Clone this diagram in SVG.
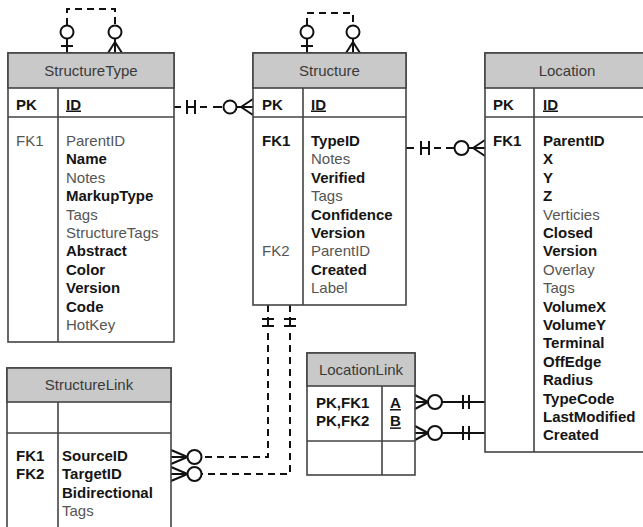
<svg xmlns="http://www.w3.org/2000/svg" width="643" height="527" viewBox="0 0 643 527">
<style>
.box{fill:#fff;stroke:#444;stroke-width:1.6}
.hdr{fill:#c9c9c9;stroke:#444;stroke-width:1.6}
.sep{stroke:#444;stroke-width:1.6;fill:none}
text{font-family:"Liberation Sans",Arial,sans-serif;font-size:15px}
.h{fill:#3a3a3a;text-anchor:middle}
.r{fill:#555}
.b{fill:#151515;font-weight:bold}
.u{text-decoration:underline}
.ln{stroke:#111;stroke-width:2;fill:none}
.ds{stroke:#111;stroke-width:2;fill:none;stroke-dasharray:7,5}
.c{stroke:#111;stroke-width:2;fill:#fff}
</style>
<g id="connectors">
  <!-- StructureType self -->
  <path class="ds" d="M67,25 V9 H115 V25"/>
  <circle class="c" cx="67" cy="32" r="6.5"/>
  <path class="ln" d="M67,38.5 V53 M61,46 H73"/>
  <circle class="c" cx="115" cy="32" r="6.5"/>
  <path class="ln" d="M115,38.5 V53 M115,42 L108,53 M115,42 L122,53"/>
  <!-- Structure self -->
  <path class="ds" d="M307,25 V13 H353 V25"/>
  <circle class="c" cx="307" cy="32" r="6.5"/>
  <path class="ln" d="M307,38.5 V53 M301,46 H313"/>
  <circle class="c" cx="353" cy="32" r="6.5"/>
  <path class="ln" d="M353,38.5 V53 M353,42 L346,53 M353,42 L360,53"/>
  <!-- StructureType -> Structure -->
  <path class="ln" d="M174,107 H181 M187,100 V114 M195,100 V114 M187,107 H195"/>
  <path class="ln" d="M200,107 H207 M213,107 H222"/>
  <circle class="c" cx="230" cy="107" r="6.5"/>
  <path class="ln" d="M236.5,107 H253 M241,107 L253,99 M241,107 L253,115"/>
  <!-- Structure -> Location -->
  <path class="ln" d="M406,148 H414 M421,141 V155 M429,141 V155 M421,148 H429"/>
  <path class="ln" d="M434,148 H441 M446,148 H454"/>
  <circle class="c" cx="461.5" cy="148" r="7"/>
  <path class="ln" d="M468.5,148 H485 M473,148 L485,140 M473,148 L485,156"/>
  <!-- Structure -> StructureLink (two) -->
  <path class="ln" d="M268,305 V312 M268,317 V327 M262,319 H274 M262,326 H274"/>
  <path class="ln" d="M290,305 V312 M290,317 V327 M284,319 H296 M284,326 H296"/>
  <path class="ds" d="M268,333 V457 H202"/>
  <path class="ds" d="M290,333 V474 H202"/>
  <circle class="c" cx="194.5" cy="457" r="7"/>
  <circle class="c" cx="194.5" cy="474" r="7"/>
  <path class="ln" d="M171,457 H187.5 M187.5,457 L171,450 M187.5,457 L171,464"/>
  <path class="ln" d="M171,474 H187.5 M187.5,474 L171,467 M187.5,474 L171,481"/>
  <!-- LocationLink -> Location (two) -->
  <path class="ln" d="M415,402 H428 M428,402 L415,395 M428,402 L415,409"/>
  <circle class="c" cx="435" cy="402" r="7"/>
  <path class="ln" d="M442,402 H485 M463,395 V409 M469,395 V409"/>
  <path class="ln" d="M415,433 H428 M428,433 L415,426 M428,433 L415,440"/>
  <circle class="c" cx="435" cy="433" r="7"/>
  <path class="ln" d="M442,433 H485 M463,426 V440 M469,426 V440"/>
</g>
<g id="StructureType">
  <rect class="box" x="8" y="53" width="166" height="289"/>
  <rect class="hdr" x="8" y="53" width="166" height="35"/>
  <path class="sep" d="M8,117 H174 M58,88 V342"/>
  <text class="h" x="91" y="75.5">StructureType</text>
  <text class="b" x="16" y="109.5">PK</text>
  <text class="b u" x="66" y="109.5">ID</text>
  <text class="r" x="16" y="146">FK1</text>
  <text class="r" x="66" y="146">ParentID</text>
  <text class="b" x="66" y="164.4">Name</text>
  <text class="r" x="66" y="182.8">Notes</text>
  <text class="b" x="66" y="201.2">MarkupType</text>
  <text class="r" x="66" y="219.6">Tags</text>
  <text class="r" x="66" y="238">StructureTags</text>
  <text class="b" x="66" y="256.4">Abstract</text>
  <text class="b" x="66" y="274.8">Color</text>
  <text class="b" x="66" y="293.2">Version</text>
  <text class="b" x="66" y="311.6">Code</text>
  <text class="r" x="66" y="330">HotKey</text>
</g>
<g id="Structure">
  <rect class="box" x="253" y="53" width="153" height="252"/>
  <rect class="hdr" x="253" y="53" width="153" height="35"/>
  <path class="sep" d="M253,117 H406 M303,88 V305"/>
  <text class="h" x="329.5" y="75.5">Structure</text>
  <text class="b" x="262" y="109.5">PK</text>
  <text class="b u" x="311" y="109.5">ID</text>
  <text class="b" x="262" y="146">FK1</text>
  <text class="b" x="311" y="146">TypeID</text>
  <text class="r" x="311" y="164.4">Notes</text>
  <text class="b" x="311" y="182.8">Verified</text>
  <text class="r" x="311" y="201.2">Tags</text>
  <text class="b" x="311" y="219.6">Confidence</text>
  <text class="b" x="311" y="238">Version</text>
  <text class="r" x="262" y="256.4">FK2</text>
  <text class="r" x="311" y="256.4">ParentID</text>
  <text class="b" x="311" y="274.8">Created</text>
  <text class="r" x="311" y="293.2">Label</text>
</g>
<g id="Location">
  <rect class="box" x="485" y="53" width="165" height="399"/>
  <rect class="hdr" x="485" y="53" width="165" height="35"/>
  <path class="sep" d="M485,117 H650 M534,88 V452"/>
  <text class="h" x="567" y="75.5">Location</text>
  <text class="b" x="493" y="109.5">PK</text>
  <text class="b u" x="543" y="109.5">ID</text>
  <text class="b" x="493" y="146">FK1</text>
  <text class="b" x="543" y="146">ParentID</text>
  <text class="b" x="543" y="164.4">X</text>
  <text class="b" x="543" y="182.8">Y</text>
  <text class="b" x="543" y="201.2">Z</text>
  <text class="r" x="543" y="219.6">Verticies</text>
  <text class="b" x="543" y="238">Closed</text>
  <text class="b" x="543" y="256.4">Version</text>
  <text class="r" x="543" y="274.8">Overlay</text>
  <text class="r" x="543" y="293.2">Tags</text>
  <text class="b" x="543" y="311.6">VolumeX</text>
  <text class="b" x="543" y="330">VolumeY</text>
  <text class="b" x="543" y="348.4">Terminal</text>
  <text class="b" x="543" y="366.8">OffEdge</text>
  <text class="b" x="543" y="385.2">Radius</text>
  <text class="b" x="543" y="403.6">TypeCode</text>
  <text class="b" x="543" y="422">LastModified</text>
  <text class="b" x="543" y="440.4">Created</text>
</g>
<g id="StructureLink">
  <rect class="box" x="7" y="368" width="164" height="170"/>
  <rect class="hdr" x="7" y="368" width="164" height="34"/>
  <path class="sep" d="M7,433 H171 M58,402 V538"/>
  <text class="h" x="89" y="389.5">StructureLink</text>
  <text class="b" x="16" y="461">FK1</text>
  <text class="b" x="62" y="461">SourceID</text>
  <text class="b" x="16" y="479.4">FK2</text>
  <text class="b" x="62" y="479.4">TargetID</text>
  <text class="b" x="62" y="497.8">Bidirectional</text>
  <text class="r" x="62" y="516.2">Tags</text>
</g>
<g id="LocationLink">
  <rect class="box" x="307" y="353" width="108" height="122"/>
  <rect class="hdr" x="307" y="353" width="108" height="33"/>
  <path class="sep" d="M307,441 H415 M382,386 V475"/>
  <text class="h" x="361" y="374.5">LocationLink</text>
  <text class="b" x="316" y="408">PK,FK1</text>
  <text class="b u" x="390" y="408">A</text>
  <text class="b" x="316" y="426.4">PK,FK2</text>
  <text class="b u" x="390" y="426.4">B</text>
</g>
</svg>
